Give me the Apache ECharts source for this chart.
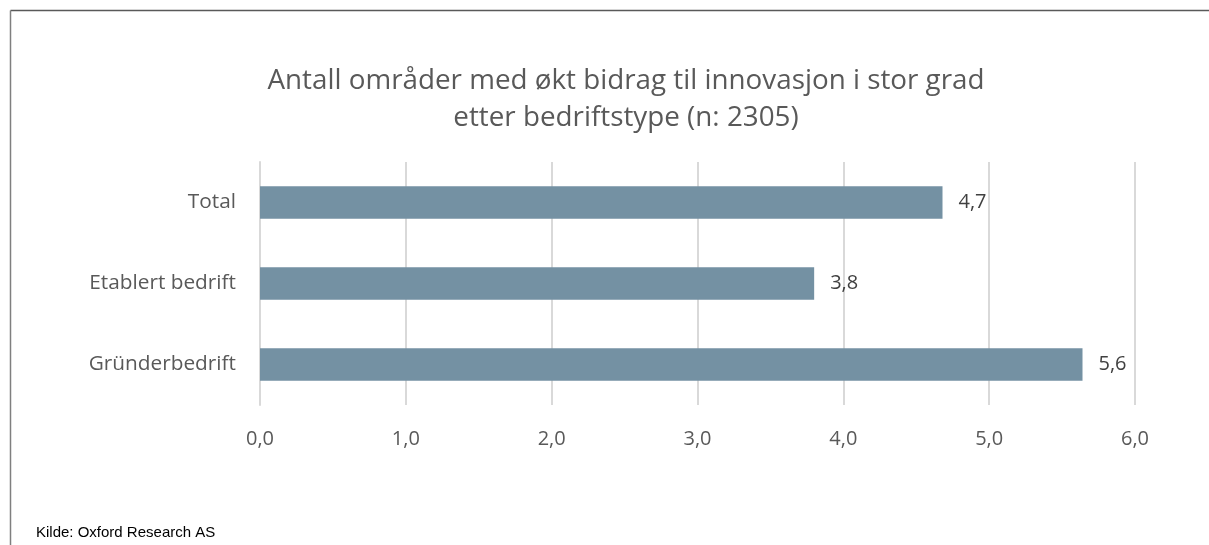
<!DOCTYPE html>
<html>
<head>
<meta charset="utf-8">
<script src="https://cdn.jsdelivr.net/npm/echarts@6/dist/echarts.min.js"></script>
<style>
html,body{margin:0;padding:0;background:#fff;}
#chart{width:1209px;height:545px;}
</style>
</head>
<body>
<div id="chart"></div>
<script>
const titleLines = ["Antall områder med økt bidrag til innovasjon i stor grad", "etter bedriftstype (n: 2305)"];
const categories = ["Total", "Etablert bedrift", "Gründerbedrift"];
const values = [4.68, 3.80, 5.64];
const axisMin = 0, axisMax = 6, axisInterval = 1;
const sourceText = "Kilde: Oxford Research AS";

const fmt = v => Number(v).toFixed(1).replace('.', ',');
const font = "'Open Sans', sans-serif";

const chart = echarts.init(document.getElementById('chart'), null, {renderer: 'canvas'});
chart.setOption({
  animation: false,
  backgroundColor: '#fff',
  title: {
    text: titleLines.join('\n'),
    left: 621,
    top: 58,
    textAlign: 'center',
    textStyle: {fontFamily: font, fontSize: 27.8, fontWeight: 'normal', color: '#595959', lineHeight: 37}
  },
  grid: {left: 260, right: 74, top: 162, bottom: 140, containLabel: false},
  xAxis: {
    type: 'value', min: axisMin, max: axisMax, interval: axisInterval,
    axisLine: {show: false}, axisTick: {show: false},
    splitLine: {show: true, lineStyle: {color: '#d9d9d9', width: 2}},
    axisLabel: {formatter: fmt, fontFamily: font, fontSize: 20, color: '#595959', margin: 24}
  },
  yAxis: {
    type: 'category', data: categories, inverse: true,
    axisLine: {show: true, lineStyle: {color: '#d9d9d9', width: 2}},
    axisTick: {show: false},
    axisLabel: {fontFamily: font, fontSize: 20.8, color: '#595959', margin: 24}
  },
  series: [{
    type: 'bar', data: values, barCategoryGap: '60%',
    itemStyle: {color: '#7491a3'},
    label: {show: true, position: 'right', distance: 16, formatter: p => fmt(p.value),
      fontFamily: font, fontSize: 20, color: '#404040'}
  }],
  graphic: [
    {type: 'line', shape: {x1: 10.5, y1: 10.5, x2: 1209, y2: 10.5}, style: {stroke: '#595959', lineWidth: 1.5}},
    {type: 'line', shape: {x1: 10.5, y1: 10.5, x2: 10.5, y2: 545}, style: {stroke: '#7f7f7f', lineWidth: 1.5}},
    {type: 'text', left: 36, top: 525, style: {text: sourceText, fontFamily: "'Liberation Sans Narrow', 'Arial Narrow', sans-serif", fontSize: 15, fill: '#000'}}
  ]
});
</script>
</body>
</html>
